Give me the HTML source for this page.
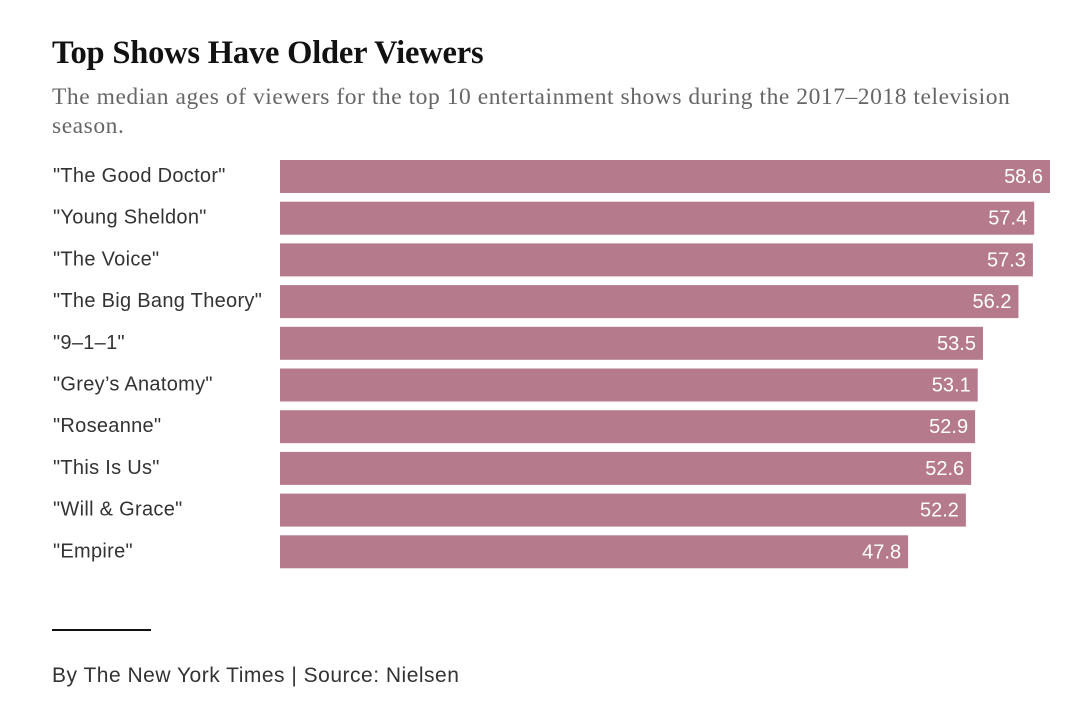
<!DOCTYPE html>
<html><head><meta charset="utf-8"><style>
body{margin:0;background:#fff;width:1080px;height:722px;overflow:hidden;position:relative;font-family:"Liberation Sans",sans-serif}
#title{position:absolute;left:52px;top:35px;font-family:"Liberation Serif",serif;font-weight:bold;font-size:32.5px;color:#121212;letter-spacing:-0.2px}
#sub{position:absolute;left:52px;top:83px;width:1000px;font-family:"Liberation Serif",serif;font-size:23.5px;line-height:29px;color:#666;letter-spacing:0.55px}
#rule{position:absolute;left:52px;top:629px;width:99px;height:2px;background:#121212}
#credit{position:absolute;left:52px;top:664px;font-size:21px;letter-spacing:0.5px;color:#333}
svg{position:absolute;left:0;top:0}
</style></head><body>
<div id="title">Top Shows Have Older Viewers</div>
<div id="sub">The median ages of viewers for the top 10 entertainment shows during the 2017–2018 television season.</div>
<svg id="chart" width="1080" height="722"></svg>
<div id="rule"></div>
<div id="credit">By The New York Times | Source: Nielsen</div>
<script>
const shows=['"The Good Doctor"','"Young Sheldon"','"The Voice"','"The Big Bang Theory"','"9–1–1"','"Grey’s Anatomy"','"Roseanne"','"This Is Us"','"Will & Grace"','"Empire"'];
const ages=[58.6,57.4,57.3,56.2,53.5,53.1,52.9,52.6,52.2,47.8];
const labels=["58.6","57.4","57.3","56.2","53.5","53.1","52.9","52.6","52.2","47.8"];
const svg=document.getElementById('chart');
const NS='http://www.w3.org/2000/svg';
const x0=280,pxPer=770/58.6;
const xs=v=>x0+v*pxPer;
const ys=i=>160+i*41.7;
shows.forEach((s,i)=>{
  const t=document.createElementNS(NS,'text');
  
  
  t.setAttribute('x',53);t.setAttribute('y',ys(i)+22);
  t.setAttribute('font-size','20');t.setAttribute('fill','#333');
  t.setAttribute('letter-spacing','0.3');
  t.setAttribute('font-family','Liberation Sans, sans-serif');
  t.textContent=s;svg.appendChild(t);
  const r=document.createElementNS(NS,'rect');
  
  
  r.setAttribute('x',x0);r.setAttribute('y',ys(i));
  r.setAttribute('width',xs(ages[i])-x0);r.setAttribute('height',33);
  r.setAttribute('fill','#b57b8c');svg.appendChild(r);
  const v=document.createElementNS(NS,'text');
  
  
  v.setAttribute('x',xs(ages[i])-7);v.setAttribute('y',ys(i)+23);
  v.setAttribute('text-anchor','end');v.setAttribute('font-size','20');
  v.setAttribute('fill','#fff');v.setAttribute('font-family','Liberation Sans, sans-serif');
  v.textContent=labels[i];svg.appendChild(v);
});
</script>
</body></html>
